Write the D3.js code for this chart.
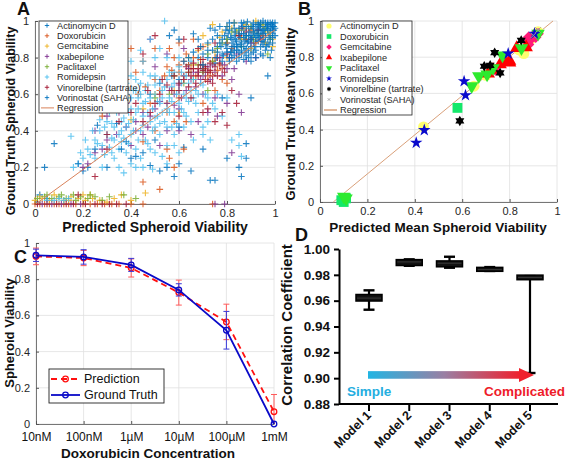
<!DOCTYPE html>
<html><head><meta charset="utf-8">
<script src="https://cdn.jsdelivr.net/npm/d3@7"></script>
<style>body{margin:0;background:#fff}svg{font-family:"Liberation Sans",Arial,sans-serif}</style>
</head><body><svg id="c" width="567" height="462"></svg>
<script>
// ---------------- DATA ----------------
const drugs = ["Actinomycin D","Doxorubicin","Gemcitabine","Ixabepilone","Paclitaxel","Romidepsin","Vinorelbine (tartrate)","Vorinostat (SAHA)"];
const viabTicks = [0,0.2,0.4,0.6,0.8,1];

// Panel A: per-spheroid predicted vs ground truth viability
const aActinomycin = [[0.86,0.9],[0.9,0.92],[0.93,0.95],[0.95,0.97],[0.97,0.99],[0.88,0.85],[0.91,0.88],[0.84,0.87],[0.82,0.83],[0.95,0.9],[0.98,0.94],[0.99,0.97],[0.92,0.98],[0.87,0.95],[0.8,0.88],[0.78,0.82],[0.85,0.8],[0.9,0.82],[0.94,0.86],[0.96,0.93],[0.89,0.96],[0.83,0.92],[0.76,0.86],[0.72,0.8],[0.81,0.78],[0.55,0.2],[0.6,0.22],[0.58,0.15],[0.65,0.18],[0.7,0.3],[0.75,0.13],[0.8,0.25],[0.85,0.2],[0.48,0.21],[0.42,0.26],[0.3,0.2],[0.2,0.18],[0.22,0.2],[0.04,0.2],[0.08,0.33],[0.34,0.44],[0.5,0.35],[0.62,0.31],[0.97,0.7],[0.45,0.28],[0.02,0.05],[0.05,0.03],[0.01,0.01],
  [0.8,0.9],[0.83,0.86],[0.86,0.93],[0.89,0.84],[0.92,0.89],[0.95,0.95],[0.98,0.99],[0.82,0.8],[0.88,0.9],[0.94,0.92],[0.9,0.97],[0.97,0.88],[0.75,0.77],[0.7,0.74],[0.68,0.8],[0.64,0.76],[0.6,0.68],[0.57,0.7],[0.52,0.66],[0.48,0.6],[0.93,0.99],[0.87,0.99],[0.99,0.95],[0.85,0.83]];
const aDoxorubicin = [[0.62,0.78],[0.65,0.74],[0.68,0.72],[0.7,0.76],[0.72,0.7],[0.74,0.78],[0.76,0.73],[0.66,0.8],[0.6,0.72],[0.58,0.8],[0.55,0.75],[0.5,0.85],[0.45,0.78],[0.4,0.85],[0.35,0.8],[0.52,0.62],[0.48,0.55],[0.55,0.5],[0.6,0.58],[0.63,0.45],[0.7,0.55],[0.75,0.62],[0.45,0.12],[0.52,0.08],[0.56,0.25],[0.62,0.3],[0.58,0.2],[0.8,0.88],[0.85,0.92],[0.9,0.95],[0.82,0.85],[0.0,0.0],[0.02,0.0],[0.04,0.0],[0.06,0.0],[0.08,0.0],[0.1,0.0],[0.12,0.0],[0.14,0.0],[0.17,0.0],[0.2,0.0],[0.23,0.0],[0.26,0.0],[0.29,0.0],[0.32,0.0],[0.35,0.0],[0.4,0.0],[0.45,0.0],[0.74,0.0],
  [0.64,0.76],[0.67,0.7],[0.69,0.79],[0.71,0.74],[0.73,0.72],[0.75,0.8],[0.77,0.76],[0.63,0.82],[0.6,0.76],[0.57,0.73],[0.54,0.7],[0.5,0.68],[0.46,0.64],[0.43,0.6],[0.42,0.72],[0.38,0.68],[0.33,0.72],[0.3,0.6],[0.28,0.48],[0.6,0.88],[0.56,0.85],[0.88,0.9],[0.92,0.88],[0.95,0.92],[0.66,0.9],[0.7,0.86],[0.78,0.68],[0.8,0.66],[0.58,0.45],[0.5,0.4],[0.45,0.34],[0.55,0.3]];
const aGemcitabine = [[0.84,0.94],[0.88,0.98],[0.92,1.0],[0.95,0.98],[0.98,0.92],[0.9,0.85],[0.86,0.9],[0.82,0.96],[0.78,0.94],[0.74,0.98],[0.7,0.92],[0.75,0.83],[0.8,0.8],[0.96,0.88],[0.99,0.86],[0.66,0.76],[0.62,0.7],[0.58,0.62],[0.55,0.55],[0.6,0.5],[0.36,0.05],[0.4,0.02],[0.46,0.06],[0.0,0.02],[0.03,0.03],[0.06,0.02],[0.09,0.03],[0.12,0.02],[0.15,0.04],[0.18,0.03],[0.21,0.02],[0.24,0.03],[0.27,0.02],[0.3,0.01],[0.2,0.05],
  [0.8,0.97],[0.77,0.91],[0.83,0.99],[0.87,0.96],[0.91,0.94],[0.94,0.9],[0.97,0.94],[0.99,0.9],[0.72,0.87],[0.68,0.84],[0.64,0.8],[0.5,0.6],[0.45,0.52],[0.4,0.46],[0.02,0.04],[0.08,0.05],[0.14,0.02],[0.23,0.05],[0.33,0.03]];
const aIxabepilone = [[0.2,0.2],[0.22,0.22],[0.25,0.28],[0.28,0.3],[0.3,0.35],[0.34,0.38],[0.38,0.42],[0.42,0.45],[0.45,0.5],[0.48,0.48],[0.5,0.52],[0.55,0.55],[0.58,0.6],[0.6,0.65],[0.63,0.62],[0.65,0.68],[0.68,0.72],[0.7,0.7],[0.72,0.75],[0.75,0.72],[0.78,0.7],[0.8,0.74],[0.82,0.68],[0.85,0.6],[0.86,0.5],[0.8,0.55],[0.75,0.58],[0.7,0.6],[0.68,0.45],[0.65,0.38],[0.6,0.4],[0.52,0.32],[0.5,0.75],[0.55,0.82],[0.48,0.9],[0.62,0.85],[0.88,0.78],[0.92,0.8],[0.6,0.52],[0.55,0.4],[0.45,0.38],[0.4,0.32],[0.03,0.0],[0.07,0.0],[0.11,0.0],[0.15,0.0],[0.19,0.0],[0.75,0.0],[0.79,0.0],[0.82,0.28],
  [0.52,0.56],[0.56,0.62],[0.58,0.54],[0.61,0.58],[0.62,0.7],[0.64,0.74],[0.66,0.72],[0.67,0.64],[0.69,0.68],[0.71,0.72],[0.73,0.68],[0.74,0.76],[0.77,0.8],[0.79,0.76],[0.81,0.8],[0.83,0.74],[0.84,0.82],[0.35,0.5],[0.3,0.48],[0.25,0.4],[0.38,0.55],[0.42,0.4],[0.47,0.42],[0.72,0.5],[0.76,0.48],[0.9,0.88],[0.94,0.9],[0.86,0.96]];
const aPaclitaxel = [[0.01,0.03],[0.04,0.04],[0.07,0.03],[0.1,0.04],[0.13,0.03],[0.16,0.05],[0.19,0.04],[0.22,0.03],[0.25,0.04],[0.28,0.02],[0.37,0.05],[0.42,0.03],[0.85,0.95],[0.9,0.97],[0.93,0.93],[0.96,0.96],[0.8,0.9],[0.76,0.85],[0.72,0.82],[0.86,0.86],[0.97,0.82],[0.7,0.72],[0.66,0.68],[0.62,0.66],[0.56,0.6],[0.72,0.62],
  [0.82,0.94],[0.88,0.92],[0.91,0.9],[0.94,0.98],[0.98,0.9],[0.78,0.88],[0.74,0.78],[0.68,0.76],[0.64,0.72],[0.58,0.7],[0.5,0.58],[0.05,0.05],[0.11,0.05],[0.17,0.02],[0.23,0.05],[0.31,0.04]];
const aRomidepsin = [[0.15,0.37],[0.18,0.22],[0.2,0.25],[0.22,0.3],[0.25,0.35],[0.27,0.4],[0.28,0.32],[0.3,0.38],[0.3,0.45],[0.32,0.36],[0.33,0.42],[0.34,0.5],[0.35,0.38],[0.36,0.45],[0.37,0.55],[0.38,0.42],[0.39,0.5],[0.4,0.58],[0.4,0.38],[0.41,0.46],[0.42,0.62],[0.43,0.52],[0.44,0.4],[0.45,0.48],[0.46,0.56],[0.47,0.65],[0.48,0.45],[0.49,0.52],[0.5,0.6],[0.5,0.7],[0.51,0.48],[0.52,0.55],[0.53,0.62],[0.54,0.45],[0.55,0.52],[0.55,0.68],[0.56,0.58],[0.57,0.64],[0.58,0.5],[0.58,0.72],[0.59,0.6],[0.6,0.55],[0.61,0.66],[0.62,0.6],[0.63,0.7],[0.64,0.56],[0.65,0.62],[0.66,0.68],[0.68,0.6],[0.7,0.65],[0.72,0.58],[0.45,0.78],[0.4,0.7],[0.35,0.62],[0.3,0.55],[0.55,0.8],[0.6,0.8],[0.25,0.25],[0.28,0.2],[0.32,0.28],[0.35,0.2],[0.38,0.28],[0.42,0.3],[0.45,0.2],[0.47,0.33],[0.5,0.28],[0.52,0.38],[0.55,0.32],[0.58,0.38],[0.62,0.42],[0.65,0.45],[0.68,0.5],[0.7,0.38],[0.72,0.45],[0.75,0.52],[0.85,0.32],[0.73,0.35],[0.55,0.22],[0.08,0.02],[0.1,0.03],[0.54,1.0],[0.48,0.9],[0.52,0.85],[0.45,0.72],[0.42,0.68],[0.6,0.75],[0.65,0.78],[0.36,0.4],[0.44,0.6],[0.38,0.6],[0.5,0.42],[0.57,0.42],[0.62,0.5],[0.67,0.55],
  [0.16,0.2],[0.19,0.28],[0.21,0.35],[0.23,0.27],[0.24,0.4],[0.26,0.33],[0.27,0.46],[0.29,0.27],[0.29,0.42],[0.31,0.31],[0.31,0.5],[0.32,0.44],[0.33,0.35],[0.34,0.56],[0.35,0.3],[0.36,0.52],[0.37,0.36],[0.37,0.47],[0.38,0.66],[0.39,0.33],[0.39,0.44],[0.4,0.52],[0.41,0.62],[0.41,0.4],[0.42,0.5],[0.43,0.35],[0.43,0.58],[0.44,0.66],[0.45,0.43],[0.45,0.55],[0.46,0.62],[0.46,0.35],[0.47,0.5],[0.48,0.58],[0.48,0.7],[0.49,0.4],[0.5,0.47],[0.5,0.65],[0.51,0.56],[0.52,0.44],[0.52,0.68],[0.53,0.5],[0.53,0.58],[0.54,0.64],[0.55,0.42],[0.56,0.5],[0.56,0.72],[0.57,0.56],[0.58,0.66],[0.59,0.44],[0.6,0.62],[0.61,0.52],[0.61,0.72],[0.63,0.58],[0.63,0.48],[0.64,0.66],[0.66,0.58],[0.67,0.62],[0.69,0.66],[0.71,0.6],[0.74,0.55],[0.76,0.6],[0.8,0.58],[0.36,0.34],[0.33,0.25],[0.4,0.22],[0.44,0.25],[0.48,0.3],[0.53,0.26],[0.58,0.32],[0.6,0.28],[0.66,0.35],[0.7,0.42],[0.78,0.48],[0.85,0.38],[0.86,0.26],[0.82,0.35],[0.3,0.62],[0.35,0.72],[0.4,0.78],[0.44,0.84],[0.5,0.8],[0.42,0.2],[0.49,0.19],[0.37,0.17],[0.12,0.02],[0.14,0.03],[0.05,0.02]];
const aVinorelbine = [[0.64,0.72],[0.66,0.74],[0.68,0.7],[0.69,0.76],[0.7,0.73],[0.71,0.68],[0.72,0.72],[0.73,0.77],[0.74,0.7],[0.75,0.75],[0.76,0.8],[0.78,0.74],[0.67,0.66],[0.62,0.68],[0.6,0.62],[0.58,0.7],[0.55,0.65],[0.52,0.6],[0.5,0.55],[0.48,0.5],[0.45,0.45],[0.42,0.55],[0.65,0.58],[0.7,0.5],[0.75,0.45],[0.8,0.43],[0.84,0.55],[0.82,0.62],[0.85,0.92],[0.88,0.94],[0.8,0.82],[0.75,0.88],[0.5,0.92],[0.45,0.82],[0.3,0.3],[0.25,0.15],[0.18,0.05],[0.01,0.0],[0.05,0.0],[0.09,0.0],[0.13,0.0],[0.16,0.0],[0.21,0.0],[0.25,0.0],[0.28,0.0],[0.31,0.0],[0.34,0.0],[0.38,0.0],
  [0.63,0.75],[0.65,0.7],[0.66,0.77],[0.68,0.74],[0.7,0.79],[0.71,0.75],[0.72,0.67],[0.73,0.73],[0.74,0.66],[0.76,0.7],[0.77,0.77],[0.79,0.72],[0.64,0.64],[0.6,0.66],[0.57,0.62],[0.53,0.68],[0.47,0.62],[0.4,0.5],[0.35,0.45],[0.3,0.38],[0.6,0.48],[0.72,0.52],[0.68,0.85],[0.62,0.9],[0.9,0.9],[0.93,0.95],[0.78,0.5]];
const aVorinostat = [[0.88,0.92],[0.91,0.94],[0.94,0.96],[0.97,0.98],[0.99,0.99],[0.86,0.88],[0.89,0.89],[0.92,0.91],[0.95,0.93],[0.98,0.96],[0.84,0.84],[0.87,0.86],[0.9,0.86],[0.93,0.89],[0.96,0.91],[0.99,0.93],[0.82,0.9],[0.85,0.93],[0.88,0.97],[0.91,0.99],[0.94,0.99],[0.8,0.85],[0.83,0.81],[0.86,0.82],[0.89,0.8],[0.92,0.84],[0.95,0.87],[0.98,0.9],[0.79,0.92],[0.83,0.96],[0.86,0.99],[0.77,0.88],[0.74,0.84],[0.81,0.8],[0.78,0.78],[0.97,0.95],[0.93,0.93],[0.9,0.9],[0.87,0.91],[0.84,0.89],[0.96,0.99],[1.0,0.96],[0.99,0.88],[0.7,0.76],[0.66,0.83],[0.72,0.88],[0.68,0.9],[0.62,0.78],[0.75,0.95],[0.8,0.97],[0.38,0.34],[0.36,0.3],[0.26,0.43],[0.25,0.3],[0.18,0.22],[0.4,0.25],[0.52,0.18],[0.88,0.33],[0.88,0.25],[0.86,0.15],[0.73,0.13],[0.9,0.58],[0.78,0.58],[0.6,0.42],
  [0.785,0.81],[0.795,0.87],[0.805,0.93],[0.815,0.83],[0.825,0.88],[0.835,0.94],[0.845,0.86],[0.855,0.91],[0.865,0.97],[0.875,0.83],[0.885,0.88],[0.895,0.94],[0.905,0.97],[0.915,0.86],[0.925,0.92],[0.935,0.97],[0.945,0.89],[0.955,0.95],[0.965,0.86],[0.975,0.92],[0.985,0.98],[0.995,0.95],[0.81,0.95],[0.83,0.99],[0.85,0.96],[0.87,0.93],[0.89,0.92],[0.91,0.96],[0.93,0.98],[0.95,1.0],[0.97,0.96],[0.99,0.91],[0.96,0.84],[0.94,0.82],[0.92,0.8],[0.9,0.78],[0.88,0.81],[0.86,0.84],[0.84,0.78],[0.82,0.86],[0.8,0.83],[0.78,0.9],[0.76,0.83],[0.76,0.92],[0.74,0.9],[0.72,0.84],[0.7,0.82],[0.73,0.96],[0.77,0.97],[0.81,0.99],[0.885,0.995],[0.915,0.93],[0.935,0.91],[0.955,0.885],[0.975,0.87],[0.985,0.84],[1.0,0.92],[1.0,0.99],[0.995,0.97],[0.965,0.97],[0.945,0.94],[0.925,0.95],[0.905,0.91],[0.875,0.89],[0.855,0.87],[0.835,0.9],[0.815,0.91],[0.795,0.95],[0.775,0.86],[0.755,0.8],[0.83,0.84],[0.87,0.79],[0.91,0.83],[0.95,0.81],[0.98,0.8],[0.69,0.86],[0.64,0.8],[0.66,0.93],[0.6,0.9],[0.58,0.95],[0.56,0.92]];
const aSeries = [aActinomycin,aDoxorubicin,aGemcitabine,aIxabepilone,aPaclitaxel,aRomidepsin,aVinorelbine,aVorinostat];
const aRegression = [[0.003,0.0],[1.0,0.952]];

// Panel B: mean predicted vs mean ground truth per condition
const bActinomycin = [[0.437,0.415],[0.84,0.84],[0.86,0.82],[0.92,0.94],[0.65,0.64],[0.7,0.7],[0.1,0.02],[0.89,0.9]];
const bDoxorubicin = [[0.58,0.52],[0.1,0.0],[0.09,0.01],[0.11,0.02]];
const bGemcitabine = [[0.87,0.89],[0.88,0.91],[0.89,0.9],[0.9,0.92],[0.91,0.91],[0.92,0.93],[0.88,0.87],[0.74,0.73]];
const bIxabepilone = [[0.73,0.73],[0.76,0.76],[0.78,0.775],[0.8,0.77],[0.8,0.78],[0.83,0.85],[0.87,0.855],[0.71,0.71]];
const bPaclitaxel = [[0.1,0.03],[0.11,0.02],[0.64,0.64],[0.67,0.695],[0.705,0.705],[0.77,0.81],[0.85,0.85],[0.92,0.93],[0.73,0.74]];
const bRomidepsin = [[0.406,0.327],[0.44,0.397],[0.614,0.59],[0.608,0.667],[0.794,0.82],[0.905,0.93]];
const bVinorelbine = [[0.59,0.448],[0.737,0.825],[0.693,0.75],[0.718,0.755],[0.76,0.713],[0.849,0.893]];
const bVorinostat = [[0.92,0.95],[0.9,0.92]];
const bSeries = [bActinomycin,bDoxorubicin,bGemcitabine,bIxabepilone,bPaclitaxel,bRomidepsin,bVinorelbine,bVorinostat];
const bRegression = [[0.056,0.0],[0.983,1.0]];

// Panel C: Doxorubicin dose response
const concValues = [1e-8,1e-7,1e-6,1e-5,1e-4,1e-3];
const concLabels = ["10nM","100nM","1µM","10µM","100µM","1mM"];
const predMean = [0.926,0.917,0.862,0.726,0.564,0.068];
const predErr  = [0.046,0.042,0.05,0.069,0.098,0.095];
const truthMean = [0.932,0.923,0.879,0.741,0.518,0.0];
const truthErr  = [0.034,0.04,0.036,0.034,0.104,0.0];

// Panel D: correlation coefficient per model
const models = ["Model 1","Model 2","Model 3","Model 4","Model 5"];
const dMin = [0.953,0.987,0.9855,0.983,0.904];
const dQ1  = [0.9605,0.988,0.987,0.9835,0.977];
const dMed = [0.962,0.990,0.989,0.984,0.978];
const dQ3  = [0.964,0.991,0.990,0.985,0.979];
const dMax = [0.968,0.992,0.994,0.986,0.979];
const dTicks = [0.88,0.90,0.92,0.94,0.96,0.98,1.00];

// ---------------- DRAW ----------------
const svg = d3.select("#c");
const txt = "#262626";

function matAxes(g, x, y, xTicks, yTicks, xFmt, yFmt, xPad=5) {
  const [x0,x1] = x.range(), [y0,y1] = y.range();
  g.append("g").selectAll("line").data(xTicks).join("line")
    .attr("x1",d=>x(d)).attr("x2",d=>x(d)).attr("y1",y0).attr("y2",y1)
    .attr("stroke","#e0e0e0").attr("stroke-width",0.8);
  g.append("g").selectAll("line").data(yTicks).join("line")
    .attr("y1",d=>y(d)).attr("y2",d=>y(d)).attr("x1",x0).attr("x2",x1)
    .attr("stroke","#e0e0e0").attr("stroke-width",0.8);
  const ax = g.append("g").attr("transform",`translate(0,${y0})`)
    .call(d3.axisBottom(x).tickValues(xTicks).tickFormat(xFmt).tickSize(-3).tickPadding(xPad).tickSizeOuter(0));
  const ay = g.append("g").attr("transform",`translate(${x0},0)`)
    .call(d3.axisLeft(y).tickValues(yTicks).tickFormat(yFmt).tickSize(-3).tickPadding(6).tickSizeOuter(0));
  [ax,ay].forEach(a=>{
    a.select(".domain").attr("stroke","#555").attr("stroke-width",0.8);
    a.selectAll(".tick line").attr("stroke","#555");
    a.selectAll("text").attr("fill",txt).attr("font-size",11).attr("font-family","Liberation Sans, Arial, sans-serif");
  });
  return {ax,ay};
}
function label(x,y,t,size,rot,opts={}) {
  const e = svg.append("text").attr("x",x).attr("y",y).text(t)
    .attr("font-size",size).attr("font-weight",opts.w||"bold")
    .attr("text-anchor",opts.a||"middle").attr("fill",opts.c||"#111");
  if (rot) e.attr("transform",`rotate(${rot},${x},${y})`);
  return e;
}
const plusPath = "M-3.3,0H3.3M0,-3.3V3.3";
const colorsA = ["#0072BD","#D95319","#EDB120","#7E2F8E","#77AC30","#4DBEEE","#A2142F","#0072BD"];

// ===== Panel A =====
{
  const x = d3.scaleLinear([0,1],[35,275]);
  const y = d3.scaleLinear([0,1],[204,21]);
  const g = svg.append("g");
  matAxes(g,x,y,viabTicks,viabTicks,d3.format("~g"),d3.format("~g"));
  aSeries.forEach((s,i)=>{
    g.append("g").selectAll("path").data(s).join("path")
      .attr("d",plusPath).attr("transform",d=>`translate(${x(d[0])},${y(d[1])})`)
      .attr("stroke",colorsA[i]).attr("stroke-width",1.1).attr("fill","none").attr("opacity",0.85);
  });
  g.append("path").datum(aRegression).attr("d",d3.line(d=>x(d[0]),d=>y(d[1])))
    .attr("stroke","#D9825A").attr("stroke-width",1).attr("fill","none");
  const lg = g.append("g");
  lg.append("rect").attr("x",39).attr("y",21).attr("width",89).attr("height",92)
    .attr("fill","#fff").attr("stroke","#222").attr("stroke-width",0.8);
  drugs.forEach((d,i)=>{
    const yy = 25.5 + i*10.3;
    lg.append("path").attr("d","M-2.2,0H2.2M0,-2.2V2.2").attr("transform",`translate(47,${yy})`)
      .attr("stroke",colorsA[i]).attr("stroke-width",0.9);
    lg.append("text").attr("x",57).attr("y",yy+3.2).text(d).attr("font-size",9.2).attr("fill",txt);
  });
  const yy = 25.5 + 8*10.3;
  lg.append("line").attr("x1",41).attr("x2",54).attr("y1",yy).attr("y2",yy).attr("stroke","#D9825A");
  lg.append("text").attr("x",57).attr("y",yy+3.2).text("Regression").attr("font-size",9.2).attr("fill",txt);
  label(155,232,"Predicted Spheroid Viability",14);
  label(15,121,"Ground Truth Spheroid Viability",12.5,-90);
  label(17,15,"A",18,0,{a:"start"});
}

// ===== Panel B =====
const hexPath = r => {
  const c = r*Math.cos(Math.PI/6);
  return `M0,${-r}L${c},${r/2}L${-c},${r/2}ZM0,${r}L${-c},${-r/2}L${c},${-r/2}Z`;
};
const diaPath = r => `M0,${-r}L${r},0L0,${r}L${-r},0Z`;
const xPath = r => `M${-r},${-r}L${r},${r}M${-r},${r}L${r},${-r}`;
const bStyle = [
  {d:r=>d3.symbol(d3.symbolCircle, r*r*3.14)(), fill:"#FFFF70", stroke:"none"},
  {d:r=>d3.symbol(d3.symbolSquare, r*r*3.2)(), fill:"#14E86A", stroke:"none"},
  {d:r=>diaPath(r*1.05), fill:"#FF1A78", stroke:"none"},
  {d:r=>d3.symbol(d3.symbolTriangle, r*r*2.6)(), fill:"#FF0000", stroke:"none"},
  {d:r=>d3.symbol(d3.symbolTriangle, r*r*2.6)(), fill:"#2EEA2E", stroke:"none", rot:180},
  {d:r=>d3.symbol(d3.symbolStar, r*r*1.6)(), fill:"#0A0ACC", stroke:"none"},
  {d:r=>hexPath(r*0.95), fill:"#000", stroke:"none"},
  {d:r=>xPath(r*0.5), fill:"none", stroke:"#999"}
];
{
  const x = d3.scaleLinear([0,1],[320,557]);
  const y = d3.scaleLinear([0,1],[202,21]);
  const g = svg.append("g");
  matAxes(g,x,y,viabTicks,viabTicks,d3.format("~g"),d3.format("~g"));
  g.append("path").datum(bRegression).attr("d",d3.line(d=>x(d[0]),d=>y(d[1])))
    .attr("stroke","#D9A07A").attr("stroke-width",1).attr("fill","none");
  bSeries.forEach((s,i)=>{
    const st = bStyle[i];
    g.append("g").selectAll("path").data(s).join("path")
      .attr("d",st.d(5.5)).attr("transform",d=>`translate(${x(d[0])},${y(d[1])})${st.rot?` rotate(${st.rot})`:""}`)
      .attr("fill",st.fill).attr("stroke",st.stroke).attr("stroke-width",1);
  });
  const lg = g.append("g");
  lg.append("rect").attr("x",322).attr("y",21).attr("width",90).attr("height",94)
    .attr("fill","#fff").attr("stroke","#222").attr("stroke-width",0.8);
  drugs.forEach((d,i)=>{
    const yy = 26 + i*10.5, st = bStyle[i];
    lg.append("path").attr("d",st.d(2.6)).attr("transform",`translate(329,${yy})${st.rot?` rotate(${st.rot})`:""}`)
      .attr("fill",st.fill).attr("stroke",st.stroke).attr("stroke-width",0.8);
    lg.append("text").attr("x",340).attr("y",yy+3.2).text(d).attr("font-size",9.2).attr("fill",txt);
  });
  const yy = 26 + 8*10.5;
  lg.append("line").attr("x1",324).attr("x2",337).attr("y1",yy).attr("y2",yy).attr("stroke","#D9A07A").attr("stroke-width",1.5);
  lg.append("text").attr("x",340).attr("y",yy+3.2).text("Regression").attr("font-size",9.2).attr("fill",txt);
  label(438,232,"Predicted Mean Spheroid Viability",13.5);
  label(295,114,"Ground Truth Mean Viability",13,-90);
  label(298,15,"B",18,0,{a:"start"});
}

// ===== Panel C =====
{
  const x = d3.scaleLog([1e-8,1e-3],[36,274]);
  const y = d3.scaleLinear([0,1],[424,243]);
  const g = svg.append("g");
  const {ax} = matAxes(g,x,y,concValues,viabTicks,(d,i)=>concLabels[i],d3.format("~g"),8);
  ax.selectAll("text").attr("font-size",12).attr("fill","#111");
  const series = [
    {m:predMean,e:predErr,c:"#FF1010",ec:"#FF5A5A",dash:"6,4"},
    {m:truthMean,e:truthErr,c:"#0A0AC8",ec:"#3A3AD8",dash:null}
  ];
  series.forEach(s=>{
    const pts = concValues.map((v,i)=>({x:v,m:s.m[i],e:s.e[i]}));
    const eg = g.append("g").attr("stroke",s.ec).attr("stroke-width",1);
    pts.forEach(p=>{
      if (p.e<=0) return;
      const lo = Math.max(0,p.m-p.e), hi = p.m+p.e;
      eg.append("line").attr("x1",x(p.x)).attr("x2",x(p.x)).attr("y1",y(lo)).attr("y2",y(hi));
      eg.append("line").attr("x1",x(p.x)-3).attr("x2",x(p.x)+3).attr("y1",y(hi)).attr("y2",y(hi));
      if (p.m-p.e>0) eg.append("line").attr("x1",x(p.x)-3).attr("x2",x(p.x)+3).attr("y1",y(lo)).attr("y2",y(lo));
    });
    g.append("path").datum(pts).attr("d",d3.line(p=>x(p.x),p=>y(p.m)))
      .attr("fill","none").attr("stroke",s.c).attr("stroke-width",1.8).attr("stroke-dasharray",s.dash);
    g.append("g").selectAll("circle").data(pts).join("circle")
      .attr("cx",p=>x(p.x)).attr("cy",p=>y(p.m)).attr("r",2.8)
      .attr("fill","none").attr("stroke",s.c).attr("stroke-width",1.3);
  });
  const lg = g.append("g");
  lg.append("rect").attr("x",49).attr("y",369).attr("width",115).attr("height",34)
    .attr("fill","#fff").attr("stroke","#222").attr("stroke-width",0.9);
  [["Prediction",series[0],379],["Ground Truth",series[1],395]].forEach(([t,s,yy])=>{
    lg.append("line").attr("x1",51).attr("x2",80).attr("y1",yy).attr("y2",yy)
      .attr("stroke",s.c).attr("stroke-width",1.8).attr("stroke-dasharray",s.dash);
    lg.append("circle").attr("cx",65.5).attr("cy",yy).attr("r",2.8).attr("fill","none").attr("stroke",s.c).attr("stroke-width",1.3);
    lg.append("text").attr("x",84).attr("y",yy+4.3).text(t).attr("font-size",12.5).attr("fill","#111");
  });
  label(148,458,"Doxorubicin Concentration",13.5);
  label(14,333,"Spheroid Viability",13,-90);
  label(14,263,"C",18,0,{a:"start"});
}

// ===== Panel D =====
{
  const y = d3.scaleLinear([0.88,1.0],[404,249]);
  const x = d3.scalePoint(models,[369,530]);
  const g = svg.append("g");
  const ay = g.append("g").attr("transform","translate(339,0)")
    .call(d3.axisLeft(y).tickValues(dTicks).tickFormat(d3.format(".2f")).tickSize(5).tickPadding(4).tickSizeOuter(0));
  ay.select(".domain").attr("stroke","#000").attr("stroke-width",2);
  ay.selectAll(".tick line").attr("stroke","#000").attr("stroke-width",2);
  ay.selectAll("text").attr("font-size",13.5).attr("font-weight","bold").attr("fill","#111").attr("font-family","Liberation Sans, Arial, sans-serif");
  const bx = d3.scaleLinear([0,1],[339,558]);
  g.append("line").attr("x1",bx(0)).attr("x2",bx(1)).attr("y1",404).attr("y2",404).attr("stroke","#000").attr("stroke-width",2);
  models.forEach((m,i)=>{
    const cx = x(m);
    g.append("line").attr("x1",cx).attr("x2",cx).attr("y1",404).attr("y2",411).attr("stroke","#000").attr("stroke-width",2);
    g.append("text").attr("x",cx+3).attr("y",416).text(m).attr("text-anchor","end")
      .attr("font-size",12.5).attr("font-weight","bold").attr("fill","#111")
      .attr("transform",`rotate(-45,${cx+3},${416})`);
    g.append("line").attr("x1",cx).attr("x2",cx).attr("y1",y(dMin[i])).attr("y2",y(dMax[i])).attr("stroke","#000").attr("stroke-width",2.2);
    [dMin[i],dMax[i]].forEach(v=>g.append("line").attr("x1",cx-5.5).attr("x2",cx+5.5).attr("y1",y(v)).attr("y2",y(v)).attr("stroke","#000").attr("stroke-width",2.4));
    g.append("rect").attr("x",cx-13).attr("width",26).attr("y",y(dQ3[i])-1).attr("height",y(dQ1[i])-y(dQ3[i])+2)
      .attr("fill","#111").attr("stroke","#000").attr("stroke-width",1.5);
    g.append("line").attr("x1",cx-12).attr("x2",cx+12).attr("y1",y(dMed[i])).attr("y2",y(dMed[i])).attr("stroke","#444").attr("stroke-width",0.8);
  });
  const defs = svg.append("defs");
  const gr = defs.append("linearGradient").attr("id","grad").attr("x1","0%").attr("x2","100%");
  gr.append("stop").attr("offset","0%").attr("stop-color","#22B5E3");
  gr.append("stop").attr("offset","50%").attr("stop-color","#9A7FA3");
  gr.append("stop").attr("offset","100%").attr("stop-color","#F0202C");
  const ay0 = y(0.9025);
  g.append("rect").attr("x",368).attr("y",ay0-3.8).attr("width",153).attr("height",7.6).attr("fill","url(#grad)");
  g.append("path").attr("d",`M519,${ay0-7}L534,${ay0}L519,${ay0+7}Z`).attr("fill","#F0202C");
  label(347,396,"Simple",13.5,0,{a:"start",c:"#25AEDF"});
  label(565,396,"Complicated",13.5,0,{a:"end",c:"#EE1C2A"});
  label(292,325,"Correlation Coefficient",15,-90);
  label(295,241,"D",18,0,{a:"start"});
}
</script></body></html>
